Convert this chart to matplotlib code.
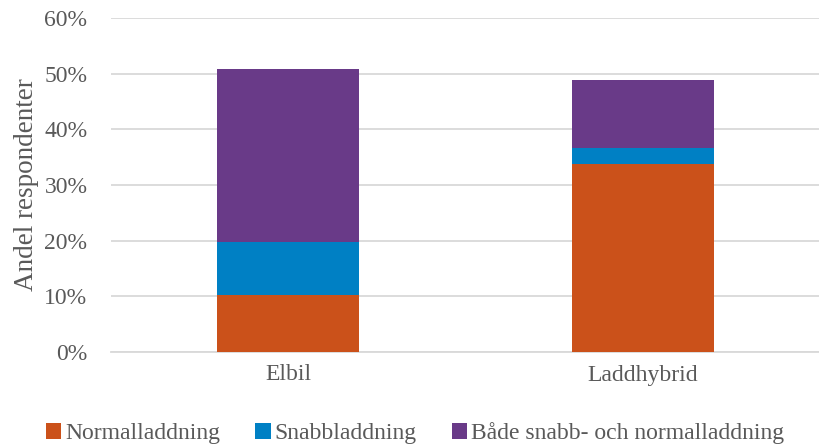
import matplotlib
matplotlib.use("Agg")
import matplotlib.pyplot as plt
import numpy as np

categories = ["Elbil", "Laddhybrid"]
series_names = ["Normalladdning", "Snabbladdning", "Både snabb- och normalladdning"]
normal = [10.3, 33.8]
snabb = [9.4, 2.8]
bada = [31.2, 12.2]
colors = ["#CB511A", "#0080C4", "#693A88"]
yticks = [0, 10, 20, 30, 40, 50, 60]

plt.rcParams['font.family'] = ['Liberation Serif', 'DejaVu Serif']

fig = plt.figure(figsize=(8.2, 4.46), dpi=100)
ax = fig.add_axes([111/820, 1 - 352/446, 709/820, (352-18)/446])

x = np.arange(len(categories))
w = 0.40
bottom = np.zeros(len(categories))
for vals, name, c in zip([normal, snabb, bada], series_names, colors):
    ax.bar(x, vals, w, bottom=bottom, color=c, label=name, zorder=3)
    bottom += np.array(vals)

ax.set_xlim(-0.5, 1.5)
ax.set_ylim(0, 60)
ax.set_yticks(yticks)
ax.set_yticklabels([f"{t}%" for t in yticks])
ax.set_xticks(x)
ax.set_xticklabels(categories)
ax.tick_params(axis='both', length=0, labelsize=17, colors='#595959', pad=9)
ax.tick_params(axis='y', pad=17)
ax.grid(axis='y', color='#D9D9D9', linewidth=1.3, zorder=0)
for s in ['top', 'right', 'left']:
    ax.spines[s].set_visible(False)
ax.spines['bottom'].set_color('#D9D9D9')
ax.spines['bottom'].set_linewidth(1.3)
ax.set_ylabel("Andel respondenter", fontsize=19.5, color='#595959', labelpad=4)

leg = fig.legend(loc='center', bbox_to_anchor=(0.506, 1 - 433/446), ncol=3, frameon=False,
                 fontsize=17, handlelength=0.65, handleheight=0.65, handletextpad=0.15,
                 columnspacing=1.5, labelcolor='#595959')

fig.savefig("out.png", dpi=100)
